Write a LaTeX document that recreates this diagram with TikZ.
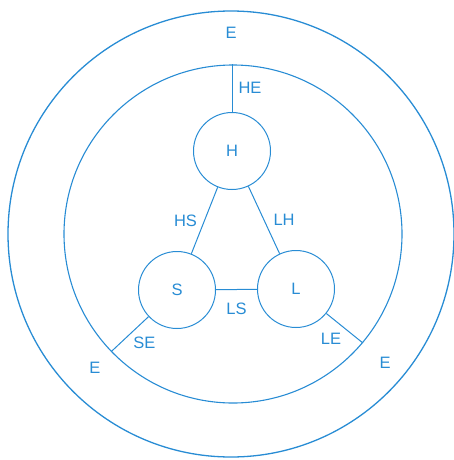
\documentclass[tikz,border=0pt]{standalone}
\usepackage{fontspec}
\setmainfont{Liberation Sans}
\usepackage{tikz}
\usetikzlibrary{positioning}
\definecolor{inkblue}{RGB}{40,140,212}

\begin{document}
\begin{tikzpicture}[
  x=1pt, y=-1pt,
  lettering/.style={font=\fontsize{16.5}{19}\selectfont, text=inkblue, inner sep=0pt},
  ring/.style={circle, draw=inkblue, line width=1.1pt, inner sep=0pt},
  element/.style={circle, draw=inkblue, line width=1pt, minimum size=77pt,
                  inner sep=0pt, lettering},
  link/.style={draw=inkblue, line width=1pt}
]
\useasboundingbox (0,0) rectangle (454,460);

% ===== Rings =====
\node[ring, line width=1.3pt, minimum size=446pt] (outer) at (231,234) {};
\node[ring, minimum size=338pt] (environment) at (233,234) {};

% ===== Elements =====
\node[element] (hardware) at (232,151) {H};
\node[element] (software) at (177,290) {S};
\node[element] (liveware) at (296,289) {L};

% ===== Interfaces =====
\draw[link] (hardware.north) -- (hardware.north |- environment.north)
  node[midway, right=6pt, lettering] (he) {HE};
\draw[link] (hardware) -- (software) node[midway, left=7pt, lettering] (hs) {HS};
\draw[link] (hardware) -- (liveware) node[midway, right=9pt, lettering] (lh) {LH};
\draw[link] (software) -- (liveware) node[midway, below=13pt, lettering] (ls) {LS};
\draw[link] (software) -- (environment.224)
  node[midway, below right=2pt and 3pt, lettering] (se) {SE};
\draw[link] (liveware) -- (environment.320)
  node[midway, below left=4pt and 3pt, lettering] (le) {LE};

% ===== Environment labels =====
\node[lettering] (etop)   at (231,33)  {E};
\node[lettering] (eleft)  at (95,368)  {E};
\node[lettering] (eright) at (385,363) {E};

\end{tikzpicture}
\end{document}
